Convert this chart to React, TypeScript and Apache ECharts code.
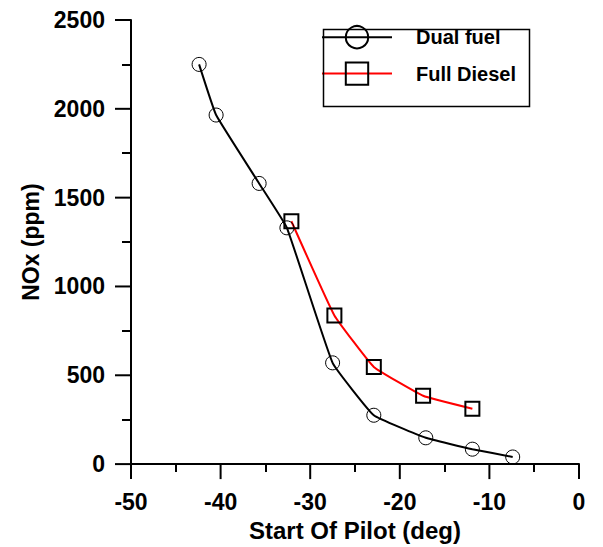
import React, { useEffect, useRef } from "react";
import * as echarts from "echarts";

const dualX = [-42.4, -40.5, -35.7, -32.6, -27.5, -22.9, -17.1, -11.9, -7.4];
const dualY = [2250, 1965, 1580, 1330, 570, 275, 148, 84, 40];
const dieselX = [-32.1, -27.3, -22.9, -17.4, -11.9];
const dieselY = [1367, 837, 547, 385, 312];
const xTicks = [-50, -40, -30, -20, -10, 0];
const yTicks = [0, 500, 1000, 1500, 2000, 2500];
const seriesNames = ["Dual fuel", "Full Diesel"];
const xTitle = "Start Of Pilot (deg)";
const yTitle = "NOx (ppm)";

const FONT = "'Liberation Sans', Arial, Helvetica, sans-serif";
const X_MIN = -50;
const Y_MIN = 0;

export default function App() {
  const ref = useRef<HTMLDivElement>(null);
  useEffect(() => {
    if (!ref.current) return;
    const chart = echarts.init(ref.current, null, { renderer: "svg" });
    const pair = (xs: number[], ys: number[]) => xs.map((x, i) => [x, ys[i]]);
    chart.setOption({
      animation: false,
      backgroundColor: "#fff",
      textStyle: { fontFamily: FONT },
      grid: { left: 131, right: 24, top: 20, bottom: 79, containLabel: false },
      legend: {
        orient: "vertical",
        left: 321,
        top: 25,
        padding: 0,
        itemWidth: 70,
        itemHeight: 28,
        itemGap: 12,
        data: seriesNames,
        textStyle: {
          fontFamily: FONT,
          fontWeight: "bold",
          fontSize: 20,
          color: "#000",
          padding: [0, 0, 0, 19],
        },
      },
      graphic: [
        {
          type: "rect",
          left: 321,
          top: 27,
          shape: { x: 0, y: 0, width: 206, height: 77 },
          style: { fill: "none", stroke: "#000", lineWidth: 1.5 },
          z: 10,
        },
      ],
      xAxis: {
        type: "value",
        min: X_MIN,
        max: 0,
        interval: 10,
        name: xTitle,
        nameLocation: "middle",
        nameGap: 50,
        nameTextStyle: { fontFamily: FONT, fontWeight: "bold", fontSize: 24, color: "#000" },
        axisLine: { show: true, onZero: false, lineStyle: { color: "#000", width: 2 } },
        axisTick: { show: false },
        minorTick: { show: true, splitNumber: 2, length: 8, lineStyle: { color: "#000", width: 2 } },
        axisLabel: { margin: 26, fontFamily: FONT, fontWeight: "bold", fontSize: 23, color: "#000" },
        splitLine: { show: false },
        minorSplitLine: { show: false },
      },
      yAxis: {
        type: "value",
        min: Y_MIN,
        max: 2500,
        interval: 500,
        name: yTitle,
        nameLocation: "middle",
        nameGap: 88,
        nameTextStyle: { fontFamily: FONT, fontWeight: "bold", fontSize: 23, color: "#000" },
        axisLine: { show: true, onZero: false, lineStyle: { color: "#000", width: 2 } },
        axisTick: { show: false },
        minorTick: { show: true, splitNumber: 2, length: 9, lineStyle: { color: "#000", width: 2 } },
        axisLabel: {
          margin: 26,
          fontFamily: FONT,
          fontWeight: "bold",
          fontSize: 23,
          color: "#000",
          formatter: (v: number) => String(v),
        },
        splitLine: { show: false },
        minorSplitLine: { show: false },
      },
      series: [
        {
          name: "xMajorTicks",
          type: "custom",
          silent: true,
          clip: false,
          data: xTicks.map((v) => [v, Y_MIN]),
          renderItem: (params: any, api: any) => {
            const p = api.coord([api.value(0), Y_MIN]);
            return {
              type: "line",
              shape: { x1: p[0], y1: p[1], x2: p[0], y2: p[1] + 15 },
              style: { stroke: "#000", lineWidth: 2 },
            };
          },
        },
        {
          name: "yMajorTicks",
          type: "custom",
          silent: true,
          clip: false,
          data: yTicks.map((v) => [X_MIN, v]),
          renderItem: (params: any, api: any) => {
            const p = api.coord([X_MIN, api.value(1)]);
            return {
              type: "line",
              shape: { x1: p[0], y1: p[1], x2: p[0] - 16, y2: p[1] },
              style: { stroke: "#000", lineWidth: 2 },
            };
          },
        },
        {
          name: seriesNames[0],
          type: "line",
          data: pair(dualX, dualY),
          smooth: 0.1,
          symbol: "circle",
          symbolSize: 14,
          lineStyle: { color: "#000", width: 2 },
          itemStyle: { color: "rgba(0,0,0,0)", borderColor: "#000", borderWidth: 1 },
        },
        {
          name: seriesNames[1],
          type: "line",
          data: pair(dieselX, dieselY),
          smooth: 0.1,
          symbol: "rect",
          symbolSize: 14,
          lineStyle: { color: "#ff0000", width: 2 },
          itemStyle: { color: "rgba(0,0,0,0)", borderColor: "#000", borderWidth: 2 },
        },
      ],
    });
    return () => chart.dispose();
  }, []);
  return (
    <div
      ref={ref}
      style={{ position: "fixed", left: 0, top: 0, width: 603, height: 547, background: "#fff" }}
    />
  );
}
